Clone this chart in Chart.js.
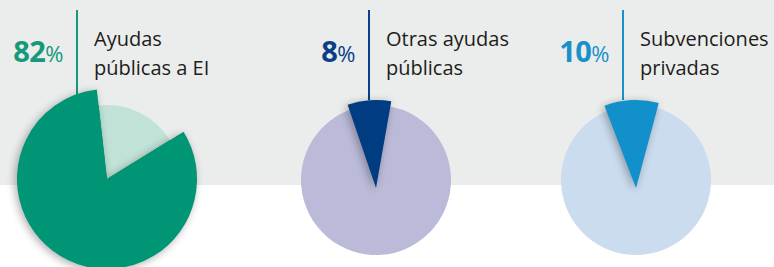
<!DOCTYPE html>
<html>
<head>
<meta charset="utf-8">
<script src="https://cdn.jsdelivr.net/npm/chart.js@4"></script>
<style>
  body { margin: 0; width: 774px; height: 267px; overflow: hidden; background: #fff; font-family: 'Open Sans', sans-serif; }
  .band { position: absolute; left: 0; top: 0; width: 774px; height: 185px; background: #ebecec; }
  .pie { position: absolute; width: 240px; height: 240px; }
  .rule { position: absolute; top: 10px; width: 2px; height: 90px; }
  .pct { position: absolute; top: 34px; width: 80px; text-align: right; font-size: 29px; font-weight: 700; line-height: 34px; letter-spacing: -0.5px; }
  .pct small { font-size: 22px; font-weight: 400; }
  .lbl { position: absolute; top: 24px; font-size: 20px; line-height: 29px; color: #1d1d1b; }
</style>
</head>
<body>
<div class="band"></div>
<div id="wrap"></div>
<script>
// datos
const categories = ['Ayudas públicas a EI', 'Otras ayudas públicas', 'Subvenciones privadas'];
const labelLines = [['Ayudas', 'públicas a EI'], ['Otras ayudas', 'públicas'], ['Subvenciones', 'privadas']];
const shares = [82, 8, 10];
const restShares = [18, 92, 90];

// colores: sector destacado / resto
const mainColors = ['#009574', '#003c82', '#1190cb'];
const lightColors = ['#c1e2d7', '#bbbad8', '#cadcee'];
const pctColors = ['#15997a', '#0b3f86', '#1a90c9'];

// geometría de cada tarta
const centers = [[107, 179], [376, 180], [636, 180]];
const rotations = [-6.5, 10, 15];
const baseRadius = [74, 75, 75];
const popRadius = [90, 88, 88];
const popShift = [0, 8, 8];
const ruleX = [77, 369, 623];

// dibuja el sector destacado más grande y con sombra
const popOut = {
    id: 'popOut',
    afterDatasetsDraw(chart, args, opts) {
        const arc = chart.getDatasetMeta(0).data[1];
        const ctx = chart.ctx;
        const r = arc.outerRadius;
        ctx.save();
        ctx.translate(0, opts.shift);
        ctx.shadowColor = 'rgba(0, 0, 0, 0.32)';
        ctx.shadowBlur = 9;
        ctx.shadowOffsetX = -2;
        ctx.shadowOffsetY = 2;
        arc.outerRadius = opts.radius;
        arc.draw(ctx);
        arc.outerRadius = r;
        ctx.restore();
    }
};

const wrap = document.getElementById('wrap');

categories.forEach((cat, i) => {
    const rule = document.createElement('div');
    rule.className = 'rule';
    rule.style.left = (ruleX[i] - 1) + 'px';
    rule.style.background = pctColors[i];
    wrap.appendChild(rule);

    const pct = document.createElement('div');
    pct.className = 'pct';
    pct.style.left = (ruleX[i] - 14 - 80) + 'px';
    pct.style.color = pctColors[i];
    pct.innerHTML = shares[i] + '<small>%</small>';
    wrap.appendChild(pct);

    const lbl = document.createElement('div');
    lbl.className = 'lbl';
    lbl.style.left = (ruleX[i] + 17) + 'px';
    lbl.innerHTML = labelLines[i].join('<br>');
    wrap.appendChild(lbl);

    const box = document.createElement('div');
    box.className = 'pie';
    box.style.left = (centers[i][0] - 120) + 'px';
    box.style.top = (centers[i][1] - 120) + 'px';
    const canvas = document.createElement('canvas');
    canvas.width = 240;
    canvas.height = 240;
    box.appendChild(canvas);
    wrap.appendChild(box);

    new Chart(canvas, {
        type: 'pie',
        data: {
            labels: ['Resto', cat],
            datasets: [{
                data: [restShares[i], shares[i]],
                backgroundColor: [lightColors[i], mainColors[i]],
                borderWidth: 0
            }]
        },
        options: {
            responsive: false,
            animation: false,
            rotation: rotations[i],
            radius: baseRadius[i],
            layout: { padding: 0 },
            events: [],
            plugins: {
                legend: { display: false },
                tooltip: { enabled: false },
                popOut: { radius: popRadius[i], shift: popShift[i] }
            }
        },
        plugins: [popOut]
    });
});
</script>
</body>
</html>
